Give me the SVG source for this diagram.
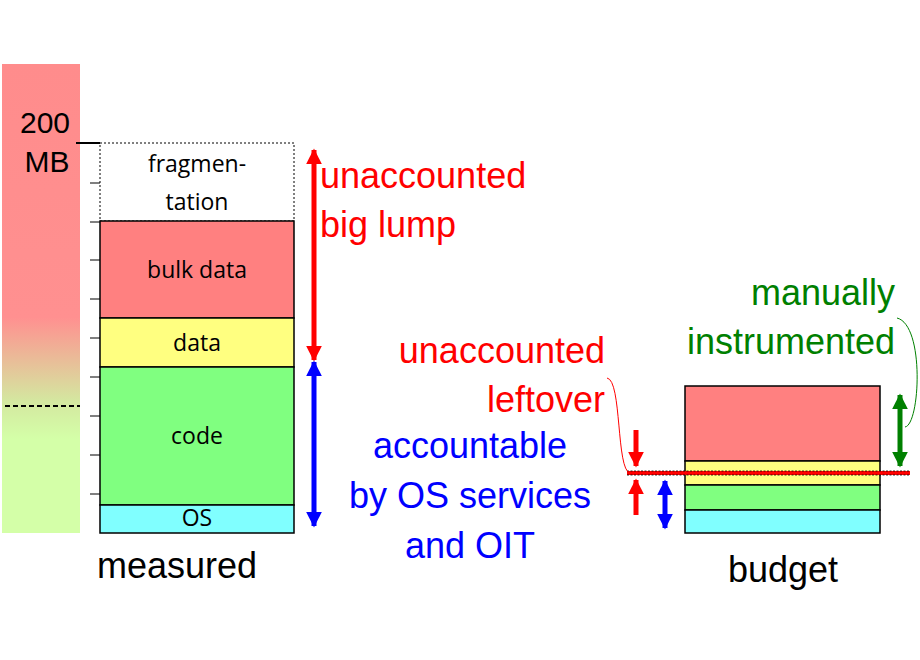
<svg xmlns="http://www.w3.org/2000/svg" width="920" height="660" viewBox="0 0 920 660">
<style>
.lbl{font-family:"Open Sans",sans-serif;font-size:23px;fill:#000;text-anchor:middle}
.big{font-family:"Liberation Sans",Arial,sans-serif;font-size:36px}
.blk{stroke:#000;stroke-width:1.5}
.tick{stroke:#000;stroke-width:1}
</style>
<defs>
<linearGradient id="g" x1="0" y1="0" x2="0" y2="1">
<stop offset="0" stop-color="#ff8c8c"/>
<stop offset="0.54" stop-color="#ff9090"/>
<stop offset="0.72" stop-color="#d4e8a0"/>
<stop offset="0.8" stop-color="#d4ffa8"/>
<stop offset="1" stop-color="#d4ffa8"/>
</linearGradient>
<marker id="ar" viewBox="0 0 10 10" refX="9" refY="5" markerWidth="3.2" markerHeight="3.2" orient="auto-start-reverse"><path d="M0,0L10,5L0,10z" fill="red"/></marker>
<marker id="ab" viewBox="0 0 10 10" refX="9" refY="5" markerWidth="3.2" markerHeight="3.2" orient="auto-start-reverse"><path d="M0,0L10,5L0,10z" fill="blue"/></marker>
<marker id="ag" viewBox="0 0 10 10" refX="9" refY="5" markerWidth="3.2" markerHeight="3.2" orient="auto-start-reverse"><path d="M0,0L10,5L0,10z" fill="green"/></marker>
</defs>
<g id="scale">
<rect x="2" y="64" width="78" height="469" fill="url(#g)"/>
<line x1="5" y1="406" x2="80" y2="406" stroke="#000" stroke-width="2" stroke-dasharray="5,3"/>
<text x="45" y="133" font-family="Liberation Sans,Arial,sans-serif" font-size="30" text-anchor="middle">200</text>
<text x="47" y="172" font-family="Liberation Sans,Arial,sans-serif" font-size="30" text-anchor="middle">MB</text>
<line x1="76" y1="143" x2="100" y2="143" stroke="#000" stroke-width="2"/>
<g class="tick"><line x1="90" y1="183" x2="100" y2="183"/><line x1="90" y1="222" x2="100" y2="222"/><line x1="90" y1="260" x2="100" y2="260"/><line x1="90" y1="299" x2="100" y2="299"/><line x1="90" y1="338" x2="100" y2="338"/><line x1="90" y1="377" x2="100" y2="377"/><line x1="90" y1="416" x2="100" y2="416"/><line x1="90" y1="455" x2="100" y2="455"/><line x1="90" y1="494" x2="100" y2="494"/></g>
</g>
<g id="measured">
<rect x="100" y="143" width="194" height="78" fill="#fff" stroke="#000" stroke-width="1" stroke-dasharray="2,2"/>
<text class="lbl" x="197" y="172">fragmen-</text><text class="lbl" x="197" y="210">tation</text>
<rect class="blk" x="100" y="221" width="194" height="97" fill="#ff8080"/>
<text class="lbl" x="197" y="278">bulk data</text>
<rect class="blk" x="100" y="318" width="194" height="49" fill="#ffff80"/>
<text class="lbl" x="197" y="351">data</text>
<rect class="blk" x="100" y="367" width="194" height="138" fill="#80ff80"/>
<text class="lbl" x="197" y="444">code</text>
<rect class="blk" x="100" y="505" width="194" height="28" fill="#80ffff"/>
<text class="lbl" x="197" y="526" font-size="17">OS</text>
<text x="177" y="578" class="big" text-anchor="middle">measured</text>
</g>
<g id="budget">
<rect class="blk" x="685" y="386" width="195" height="75" fill="#ff8080"/>
<rect class="blk" x="685" y="461" width="195" height="24" fill="#ffff80"/>
<rect class="blk" x="685" y="485" width="195" height="25" fill="#80ff80"/>
<rect class="blk" x="685" y="510" width="195" height="23" fill="#80ffff"/>
<text x="783" y="582" class="big" text-anchor="middle">budget</text>
</g>
<g id="labels">
<text class="big" x="320" y="188" fill="red">unaccounted</text>
<text class="big" x="320" y="237" fill="red">big lump</text>
<text class="big" x="605" y="363" fill="red" text-anchor="end">unaccounted</text>
<text class="big" x="605" y="412" fill="red" text-anchor="end">leftover</text>
<text class="big" x="470" y="458" fill="blue" text-anchor="middle">accountable</text>
<text class="big" x="470" y="508" fill="blue" text-anchor="middle">by OS services</text>
<text class="big" x="470" y="558" fill="blue" text-anchor="middle">and OIT</text>
<text class="big" x="895" y="305" fill="green" text-anchor="end">manually</text>
<text class="big" x="895" y="354" fill="green" text-anchor="end">instrumented</text>
</g>
<g id="connectors">
<line x1="314" y1="150" x2="314" y2="360" stroke="red" stroke-width="5" marker-start="url(#ar)" marker-end="url(#ar)"/>
<line x1="314" y1="362" x2="314" y2="526" stroke="blue" stroke-width="5" marker-start="url(#ab)" marker-end="url(#ab)"/>
<line x1="627" y1="473" x2="910" y2="473" stroke="red" stroke-width="4"/>
<line x1="627" y1="471" x2="910" y2="471" stroke="#000" stroke-width="0.8" stroke-dasharray="2,1.5"/>
<line x1="627" y1="475" x2="910" y2="475" stroke="#000" stroke-width="0.8" stroke-dasharray="2,1.5"/>
<line x1="636" y1="430" x2="636" y2="466" stroke="red" stroke-width="5" marker-end="url(#ar)"/>
<line x1="636" y1="515" x2="636" y2="480" stroke="red" stroke-width="5" marker-end="url(#ar)"/>
<line x1="665" y1="481" x2="665" y2="528" stroke="blue" stroke-width="5" marker-start="url(#ab)" marker-end="url(#ab)"/>
<line x1="900" y1="395" x2="900" y2="466" stroke="green" stroke-width="5" marker-start="url(#ag)" marker-end="url(#ag)"/>
<path d="M607,378 C622,380 616,470 630,473" fill="none" stroke="red" stroke-width="1"/>
<path d="M897,318 C925,325 920,425 905,427" fill="none" stroke="green" stroke-width="1"/>
</g>
</svg>
